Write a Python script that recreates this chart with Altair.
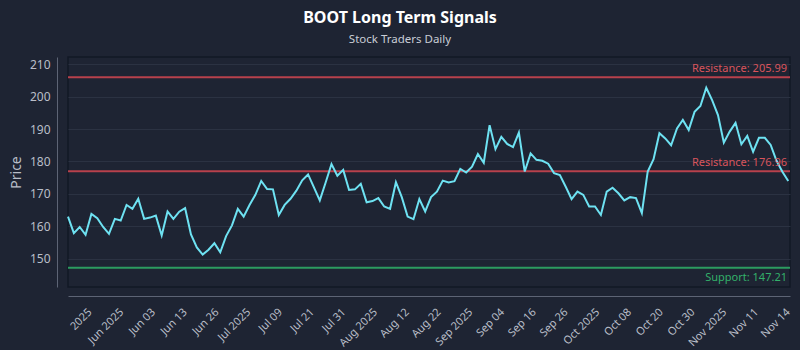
import altair as alt
import pandas as pd

# ---- data ----
prices = [
    163.0, 157.9, 159.8, 157.4, 163.8, 162.5, 159.8, 157.7, 162.3, 161.8,
    166.6, 165.4, 168.5, 162.3, 162.7, 163.3, 157.2, 164.6, 162.3, 164.5,
    165.6, 157.5, 153.5, 151.3, 152.8, 154.8, 152.0, 157.0, 160.3, 165.4,
    163.0, 166.6, 169.7, 174.0, 171.5, 171.4, 163.5, 166.6, 168.5, 171.0,
    174.2, 176.0, 172.0, 168.0, 173.5, 179.2, 175.6, 177.4, 171.2, 171.4,
    173.1, 167.4, 167.8, 168.7, 166.1, 165.4, 173.6, 169.0, 163.0, 162.2,
    168.4, 164.6, 169.0, 170.7, 174.1, 173.5, 173.9, 177.7, 176.6, 178.4,
    182.3, 179.6, 191.2, 183.8, 187.6, 185.4, 184.4, 188.9, 176.9, 182.5,
    180.5, 180.2, 179.3, 176.4, 175.8, 172.2, 168.4, 170.7, 169.7, 166.1,
    166.1, 163.5, 170.7, 171.9, 170.2, 168.0, 169.0, 168.7, 164.1, 176.9,
    180.7, 188.7, 187.1, 185.0, 190.2, 192.8, 189.7, 195.3, 197.1, 202.7,
    198.9, 194.3, 185.8, 189.2, 191.9, 185.3, 187.9, 183.0, 187.3, 187.3,
    185.1, 180.2, 176.8, 174.0,
]

tick_labels = [
    "2025", "Jun 2025", "Jun 03", "Jun 13", "Jun 26", "Jul 2025", "Jul 09",
    "Jul 21", "Jul 31", "Aug 2025", "Aug 12", "Aug 22", "Sep 2025", "Sep 04",
    "Sep 16", "Sep 26", "Oct 2025", "Oct 08", "Oct 20", "Oct 30", "Nov 2025",
    "Nov 11", "Nov 14",
]

level_values = [205.99, 176.96, 147.21]
level_kinds = ["Resistance", "Resistance", "Support"]

y_ticks = [150, 160, 170, 180, 190, 200, 210]

# ---- tables ----
n = len(prices)
df = pd.DataFrame({"idx": list(range(n)), "price": prices})
levels = pd.DataFrame({
    "level": level_values,
    "kind": level_kinds,
    "label": [f"{k}: {v:.2f}" for k, v in zip(level_kinds, level_values)],
})

tick_start = 3.0
tick_step = 5.42
tick_pos = [tick_start + k * tick_step for k in range(len(tick_labels))]
label_arr = "[" + ",".join("'" + t + "'" for t in tick_labels) + "]"
label_expr = f"{label_arr}[round((datum.value - {tick_start}) / {tick_step})]"

W, H = 722, 230
x_scale = alt.Scale(domain=[0, n - 1 + 0.3], nice=False, zero=False)
y_scale = alt.Scale(domain=[141.3, 212.2], nice=False, zero=False)

grid_col = "#2b3242"
axis_col = "#5d6475"
lab_col = "#b9bec8"

y_axis = alt.Axis(values=y_ticks, ticks=False, grid=True, gridColor=grid_col,
                  domainColor=axis_col, offset=11, labelPadding=7,
                  labelOverlap=False, labelFlush=False, labelBound=False,
                  labelColor=lab_col, labelFontSize=12, titleColor=lab_col,
                  titleFontSize=14, titleFontWeight="normal", titlePadding=6)

line = alt.Chart(df).mark_line(color="#6ee2f2", strokeWidth=2).encode(
    x=alt.X("idx:Q", scale=x_scale, title=None,
            axis=alt.Axis(values=tick_pos, labelExpr=label_expr, labelAngle=-45,
                          labelAlign="right", labelBaseline="top", ticks=False,
                          grid=False, domainColor=axis_col, offset=9,
                          labelPadding=10, labelColor=lab_col, labelFontSize=11,
                          labelOverlap=False, labelBound=False, labelFlush=False)),
    y=alt.Y("price:Q", scale=y_scale, title="Price", axis=y_axis),
)

color_scale = alt.Scale(domain=["Resistance", "Support"], range=["#c9454f", "#2ea865"])
text_scale = alt.Scale(domain=["Resistance", "Support"], range=["#d9545c", "#33b06a"])

rules = alt.Chart(levels).mark_rule(strokeWidth=2, opacity=0.9).encode(
    y=alt.Y("level:Q", scale=y_scale, title="Price", axis=y_axis),
    color=alt.Color("kind:N", scale=color_scale, legend=None),
)

res_text = alt.Chart(levels).transform_filter(alt.datum.kind == "Resistance").mark_text(
    align="right", baseline="bottom", dy=-3, fontSize=11
).encode(
    x=alt.value(W - 3),
    y=alt.Y("level:Q", scale=y_scale, title="Price", axis=y_axis),
    text="label:N",
    color=alt.Color("kind:N", scale=text_scale, legend=None),
)

sup_text = alt.Chart(levels).transform_filter(alt.datum.kind == "Support").mark_text(
    align="right", baseline="top", dy=4, fontSize=11
).encode(
    x=alt.value(W - 3),
    y=alt.Y("level:Q", scale=y_scale, title="Price", axis=y_axis),
    text="label:N",
    color=alt.Color("kind:N", scale=text_scale, legend=None),
)

chart = alt.layer(rules, line, res_text, sup_text).resolve_scale(color="independent").properties(
    width=W,
    height=H,
    autosize=alt.AutoSizeParams(type="none"),
    padding={"left": 68, "top": 57, "right": 10, "bottom": 63},
    background="#1e2433",
    title=alt.TitleParams(
        text="BOOT Long Term Signals",
        subtitle="Stock Traders Daily",
        color="#ffffff",
        subtitleColor="#c9cdd6",
        fontSize=16,
        fontWeight="bold",
        subtitleFontSize=11.5,
        anchor="middle",
        dx=-29,
        offset=12,
        subtitlePadding=8,
    ),
).configure(font="Noto Sans").configure_view(stroke="#121826", strokeWidth=1.5)

chart.save("out.html", embed_options={"renderer": "svg", "actions": False})
